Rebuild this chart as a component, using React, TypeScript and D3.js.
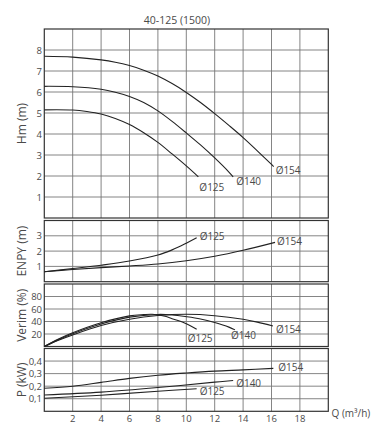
import React from "react";
import * as d3 from "d3";

const title = "40-125 (1500)";
const qTicks = [2, 4, 6, 8, 10, 12, 14, 16, 18];

// Hm (m)
const hm154Q = [0, 2, 4, 5, 6, 7, 8, 9, 10, 11, 12, 13, 14, 15, 16, 16.15];
const hm154 = [7.7, 7.66, 7.53, 7.42, 7.26, 7.04, 6.76, 6.4, 5.98, 5.5, 4.97, 4.41, 3.83, 3.2, 2.55, 2.45];
const hm140Q = [0, 2, 4, 5, 6, 7, 8, 9, 10, 11, 12, 13, 13.3];
const hm140 = [6.27, 6.25, 6.13, 5.99, 5.79, 5.5, 5.1, 4.6, 4.05, 3.48, 2.86, 2.19, 1.96];
const hm125Q = [0, 2, 3, 4, 5, 6, 7, 8, 9, 10, 10.85];
const hm125 = [5.15, 5.14, 5.07, 4.95, 4.74, 4.45, 4.06, 3.6, 3.05, 2.48, 1.96];
const hmTicks = [1, 2, 3, 4, 5, 6, 7, 8];

// ENPY (m)
const enpy154Q = [0, 2, 4, 6, 8, 10, 12, 14, 16.25];
const enpy154 = [0.65, 0.8, 0.92, 1.03, 1.16, 1.37, 1.66, 2.05, 2.57];
const enpy125Q = [0, 2, 4, 6, 8, 9, 10, 10.73];
const enpy125 = [0.65, 0.86, 1.08, 1.35, 1.74, 2.08, 2.52, 2.87];
const enpyTicks = [1, 2, 3];

// Verim (%)
const ver125Q = [0, 1, 2, 4, 6, 7, 7.6, 8.5, 9, 10, 10.73];
const ver125 = [0, 12, 22, 38, 49, 51, 51.5, 48.5, 44.5, 36.5, 27.7];
const ver140Q = [0, 1, 2, 4, 6, 8, 9, 10, 11, 12, 13, 13.43];
const ver140 = [0, 11, 20.5, 36, 47, 51.3, 50.5, 47.7, 44, 38.3, 31, 26.6];
const ver154Q = [0, 1, 2, 4, 6, 8, 10, 12, 14, 15, 16.1];
const ver154 = [0, 10, 18.5, 33.5, 43.5, 49.5, 51.5, 49.3, 43.5, 39, 32.9];
const verTicks = [20, 40, 60, 80];

// P (kW)
const p154Q = [0, 2, 4, 6, 8, 10, 12, 14, 16.13];
const p154 = [0.184, 0.2, 0.23, 0.262, 0.287, 0.305, 0.32, 0.33, 0.342];
const p140Q = [0, 4, 8, 12, 13.3];
const p140 = [0.13, 0.153, 0.189, 0.232, 0.245];
const p125Q = [0, 4, 8, 10.73];
const p125 = [0.104, 0.128, 0.16, 0.18];
const pTicks = [0.1, 0.2, 0.3, 0.4];
const pTickLabels = ["0,1", "0,2", "0,3", "0,4"];

const FONT = "'Open Sans', 'DejaVu Sans', sans-serif";
const TXT = "#4a4a4a";
const GRID = "#777";

const x = d3.scaleLinear().domain([0, 20]).range([44.3, 328.3]);

type Curve = { q: number[]; v: number[]; label: string; dx: number; dy: number };

type Panel = {
  top: number;
  bottom: number;
  max: number;
  step: number;
  ticks: number[];
  tickLabels: string[];
  name: string;
  curves: Curve[];
};

const panels: Panel[] = [
  {
    top: 29,
    bottom: 218,
    max: 9,
    step: 1,
    ticks: hmTicks,
    tickLabels: hmTicks.map(String),
    name: "Hm (m)",
    curves: [
      { q: hm154Q, v: hm154, label: "Ø154", dx: 2, dy: 3 },
      { q: hm140Q, v: hm140, label: "Ø140", dx: 3, dy: 4.5 },
      { q: hm125Q, v: hm125, label: "Ø125", dx: 1, dy: 10 },
    ],
  },
  {
    top: 220.5,
    bottom: 281.7,
    max: 4,
    step: 1,
    ticks: enpyTicks,
    tickLabels: enpyTicks.map(String),
    name: "ENPY (m)",
    curves: [
      { q: enpy154Q, v: enpy154, label: "Ø154", dx: 2, dy: -1 },
      { q: enpy125Q, v: enpy125, label: "Ø125", dx: 3, dy: -2 },
    ],
  },
  {
    top: 284,
    bottom: 346.5,
    max: 100,
    step: 20,
    ticks: verTicks,
    tickLabels: verTicks.map(String),
    name: "Verim (%)",
    curves: [
      { q: ver154Q, v: ver154, label: "Ø154", dx: 3, dy: 3 },
      { q: ver140Q, v: ver140, label: "Ø140", dx: -4, dy: 5.5 },
      { q: ver125Q, v: ver125, label: "Ø125", dx: -9, dy: 8.5 },
    ],
  },
  {
    top: 348.5,
    bottom: 411.3,
    max: 0.5,
    step: 0.1,
    ticks: pTicks,
    tickLabels: pTickLabels,
    name: "P (kW)",
    curves: [
      { q: p154Q, v: p154, label: "Ø154", dx: 5, dy: -1 },
      { q: p140Q, v: p140, label: "Ø140", dx: 3, dy: 2 },
      { q: p125Q, v: p125, label: "Ø125", dx: 3, dy: 2 },
    ],
  },
];

function PanelView({ p }: { p: Panel }) {
  const y = d3.scaleLinear().domain([0, p.max]).range([p.bottom, p.top]);
  const line = d3
    .line<[number, number]>()
    .x((d) => x(d[0]))
    .y((d) => y(d[1]))
    .curve(d3.curveCatmullRom.alpha(0.5));
  const gridY = d3.range(p.step, p.max - p.step / 2, p.step);
  const gridX = d3.range(2, 20, 2);
  return (
    <g>
      {gridX.map((g) => (
        <line key={"vx" + g} x1={x(g)} x2={x(g)} y1={p.top} y2={p.bottom} stroke={GRID} strokeWidth={0.9} />
      ))}
      {gridY.map((g) => (
        <line key={"hy" + g} x1={x(0)} x2={x(20)} y1={y(g)} y2={y(g)} stroke={GRID} strokeWidth={0.9} />
      ))}
      <rect x={x(0)} y={p.top} width={x(20) - x(0)} height={p.bottom - p.top} fill="none" stroke="#333" strokeWidth={1.2} />
      {p.ticks.map((t, i) => (
        <text key={"t" + t} x={42} y={y(t)} textAnchor="end" dominantBaseline="central" fontSize={9.5} fill={TXT} fontFamily={FONT}>
          {p.tickLabels[i]}
        </text>
      ))}
      <text
        transform={`translate(21.5,${(p.top + p.bottom) / 2}) rotate(-90)`}
        textAnchor="middle"
        dominantBaseline="central"
        fontSize={12}
        fill={TXT}
        fontFamily={FONT}
      >
        {p.name}
      </text>
      {p.curves.map((c) => {
        const pts: [number, number][] = c.q.map((q, i) => [q, c.v[i]]);
        const last = pts[pts.length - 1];
        return (
          <g key={c.label}>
            <path d={line(pts) || ""} fill="none" stroke="#222" strokeWidth={1.1} />
            <text
              x={x(last[0]) + c.dx}
              y={y(last[1]) + c.dy}
              dominantBaseline="central"
              fontSize={10}
              fill={TXT}
              fontFamily={FONT}
            >
              {c.label}
            </text>
          </g>
        );
      })}
    </g>
  );
}

export default function App() {
  const last = panels[panels.length - 1];
  return (
    <svg
      width={380}
      height={439}
      style={{ position: "absolute", left: 0, top: 0, background: "#fff" }}
    >
      <rect width={380} height={439} fill="#fff" />
      <text x={177} y={19.5} textAnchor="middle" dominantBaseline="central" fontSize={10.5} fill={TXT} fontFamily={FONT}>
        {title}
      </text>
      {panels.map((p) => (
        <PanelView key={p.name} p={p} />
      ))}
      {qTicks.map((t) => (
        <text key={"q" + t} x={x(t)} y={last.bottom + 7.5} textAnchor="middle" dominantBaseline="central" fontSize={9.5} fill={TXT} fontFamily={FONT}>
          {t}
        </text>
      ))}
      <text x={331.5} y={412.5} dominantBaseline="central" fontSize={10} fill={TXT} fontFamily={FONT}>
        Q (m³/h)
      </text>
    </svg>
  );
}
